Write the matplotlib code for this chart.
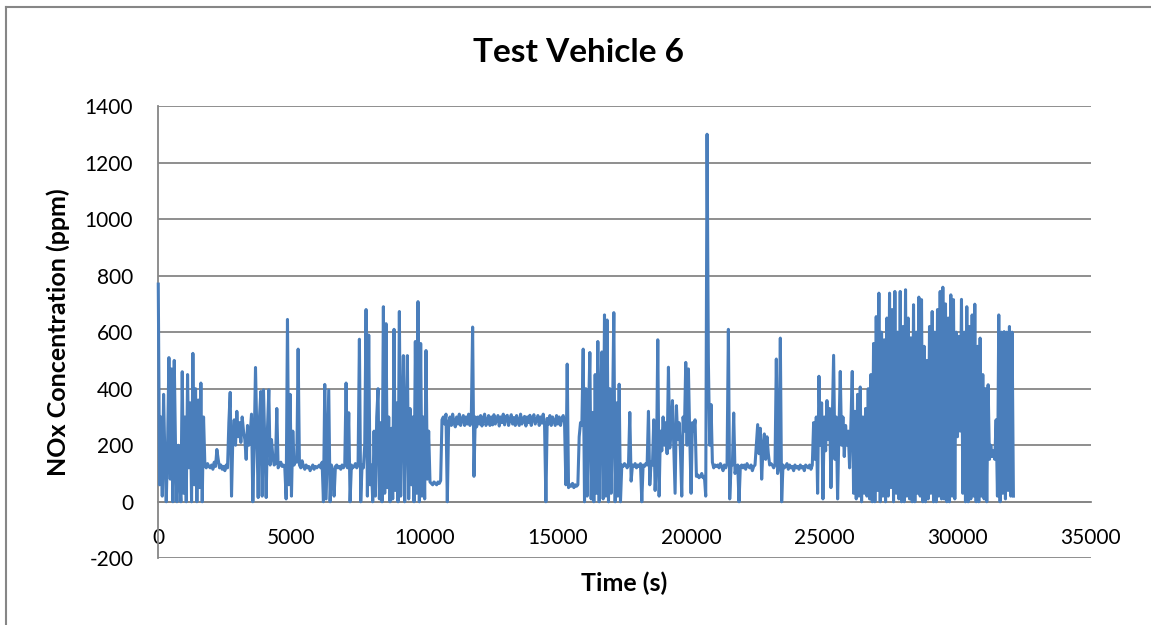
import numpy as np
import matplotlib.pyplot as plt

plt.rcParams['font.family'] = ['Lato', 'DejaVu Sans']
plt.rcParams['axes.unicode_minus'] = False

sample_step = 50
nox_ppm = [
    770, 60, 300, 20, 380, 150, 0, 200, 510, 80, 470, 0, 500, 180, 0, 200, 90, 0, 460, 30,
    300, 0, 450, 120, 350, 0, 525, 60, 400, 0, 360, 50, 420, 0, 300, 130, 120, 135, 125, 120,
    130, 115, 140, 125, 185, 150, 120, 130, 115, 125, 110, 130, 120, 280, 387, 20, 230, 290, 200, 320,
    230, 280, 210, 300, 250, 220, 150, 270, 200, 240, 310, 0, 200, 475, 240, 15, 300, 390, 20, 396,
    200, 15, 260, 396, 130, 220, 160, 130, 135, 330, 120, 130, 140, 125, 130, 120, 10, 645, 60, 380,
    20, 250, 130, 150, 140, 540, 130, 120, 145, 125, 115, 130, 120, 125, 110, 120, 130, 115, 125, 120,
    125, 130, 120, 140, 0, 415, 10, 200, 395, 0, 130, 110, 20, 125, 130, 120, 125, 115, 130, 120,
    130, 420, 120, 315, 0, 130, 120, 125, 135, 120, 130, 575, 0, 130, 120, 200, 680, 20, 590, 60,
    130, 0, 250, 20, 300, 400, 10, 280, 0, 690, 30, 630, 50, 300, 0, 260, 10, 610, 40, 350,
    0, 673, 20, 300, 517, 0, 280, 517, 10, 330, 60, 300, 0, 567, 30, 708, 0, 560, 20, 300,
    10, 535, 80, 250, 70, 65, 60, 70, 65, 60, 70, 65, 75, 290, 300, 275, 310, 0, 280, 300,
    270, 310, 280, 265, 300, 275, 310, 270, 290, 305, 270, 300, 275, 310, 270, 295, 618, 90, 300, 265,
    300, 275, 305, 268, 295, 310, 270, 285, 305, 270, 300, 272, 308, 275, 290, 305, 268, 300, 280, 310,
    272, 300, 306, 270, 290, 308, 275, 298, 270, 305, 285, 270, 310, 275, 295, 302, 268, 300, 280, 306,
    270, 295, 308, 275, 290, 305, 270, 300, 278, 310, 272, 0, 295, 275, 305, 270, 300, 285, 270, 305,
    275, 300, 270, 295, 305, 280, 60, 487, 50, 60, 55, 65, 50, 60, 55, 60, 230, 280, 270, 540,
    0, 400, 20, 300, 528, 10, 316, 0, 450, 30, 567, 0, 350, 530, 10, 661, 20, 643, 0, 400,
    30, 300, 669, 0, 350, 20, 416, 0, 130, 125, 135, 130, 120, 130, 316, 73, 130, 125, 135, 120,
    130, 125, 135, 0, 130, 125, 135, 130, 320, 60, 140, 130, 290, 40, 130, 573, 20, 250, 180, 300,
    200, 280, 170, 476, 190, 260, 358, 200, 30, 340, 220, 280, 180, 20, 300, 250, 493, 200, 470, 230,
    30, 280, 250, 290, 90, 95, 85, 90, 100, 85, 90, 20, 1300, 490, 200, 344, 140, 120, 130, 125,
    130, 120, 135, 125, 110, 130, 120, 135, 610, 10, 125, 130, 314, 100, 125, 130, 0, 125, 130, 120,
    130, 115, 135, 125, 120, 130, 110, 125, 130, 200, 273, 170, 260, 80, 190, 240, 150, 230, 170, 130,
    135, 130, 120, 130, 505, 100, 125, 579, 0, 130, 120, 125, 135, 115, 130, 120, 125, 110, 130, 120,
    125, 115, 130, 120, 125, 110, 130, 125, 120, 130, 115, 130, 280, 150, 300, 30, 444, 200, 350, 10,
    300, 180, 358, 220, 330, 50, 280, 518, 150, 300, 10, 250, 461, 200, 300, 160, 270, 200, 250, 120,
    280, 461, 30, 320, 10, 380, 20, 406, 0, 300, 30, 330, 20, 400, 10, 450, 0, 560, 0, 655,
    40, 738, 0, 600, 20, 573, 0, 650, 20, 738, 50, 680, 0, 744, 30, 600, 10, 744, 0, 620,
    0, 750, 20, 650, 10, 580, 0, 697, 0, 600, 30, 724, 20, 715, 0, 550, 0, 500, 10, 620,
    30, 673, 0, 600, 0, 680, 20, 744, 10, 759, 10, 700, 0, 650, 0, 732, 20, 715, 10, 600,
    230, 585, 250, 716, 30, 600, 0, 690, 0, 620, 10, 661, 20, 699, 0, 550, 0, 579, 20, 450,
    10, 400, 0, 414, 150, 200, 160, 180, 150, 290, 20, 661, 0, 600, 30, 602, 10, 600, 40, 620,
    20, 600, 20,
]
time_s = np.arange(len(nox_ppm)) * sample_step

y_ticks = [-200, 0, 200, 400, 600, 800, 1000, 1200, 1400]
x_ticks = [0, 5000, 10000, 15000, 20000, 25000, 30000, 35000]

fig = plt.figure(figsize=(11.51, 6.25), dpi=100)
ax = fig.add_axes([0.1375, 0.1067, 0.8101, 0.7237])

grid_col = '#868686'
ax.plot(time_s, nox_ppm, color='#4A7EBB', lw=2.2, zorder=3, clip_on=False)

ax.set_xlim(0, 35000)
ax.set_ylim(-200, 1400)
ax.set_xticks(x_ticks)
ax.set_yticks(y_ticks)
ax.grid(axis='y', color=grid_col, lw=1.3)
ax.set_axisbelow(True)

for side in ['top', 'right']:
    ax.spines[side].set_visible(False)
ax.spines['bottom'].set_position(('data', 0))
ax.spines['bottom'].set_color(grid_col)
ax.spines['bottom'].set_linewidth(1.3)
ax.spines['left'].set_color(grid_col)
ax.spines['left'].set_linewidth(1.3)

ax.tick_params(axis='x', length=0, pad=19, labelsize=15)
ax.tick_params(axis='y', length=0, pad=18, labelsize=15)

fig.text(624 / 1151, 1 - 583 / 625, 'Time (s)', ha='center', va='center',
         fontsize=18, fontweight='bold')
fig.text(58 / 1151, 1 - 332 / 625, 'NOx Concentration (ppm)', ha='center', va='center',
         rotation=90, fontsize=18, fontweight='bold')
fig.text(0.503, 1 - 52 / 625, 'Test Vehicle 6', ha='center', va='center',
         fontsize=24, fontweight='bold')

# chart area border
fig.add_artist(plt.Line2D([0.005, 0.005], [0, 0.989], color=grid_col, lw=1.5))
fig.add_artist(plt.Line2D([0.005, 1], [0.989, 0.989], color=grid_col, lw=1.5))

fig.savefig('out.png', dpi=100)
